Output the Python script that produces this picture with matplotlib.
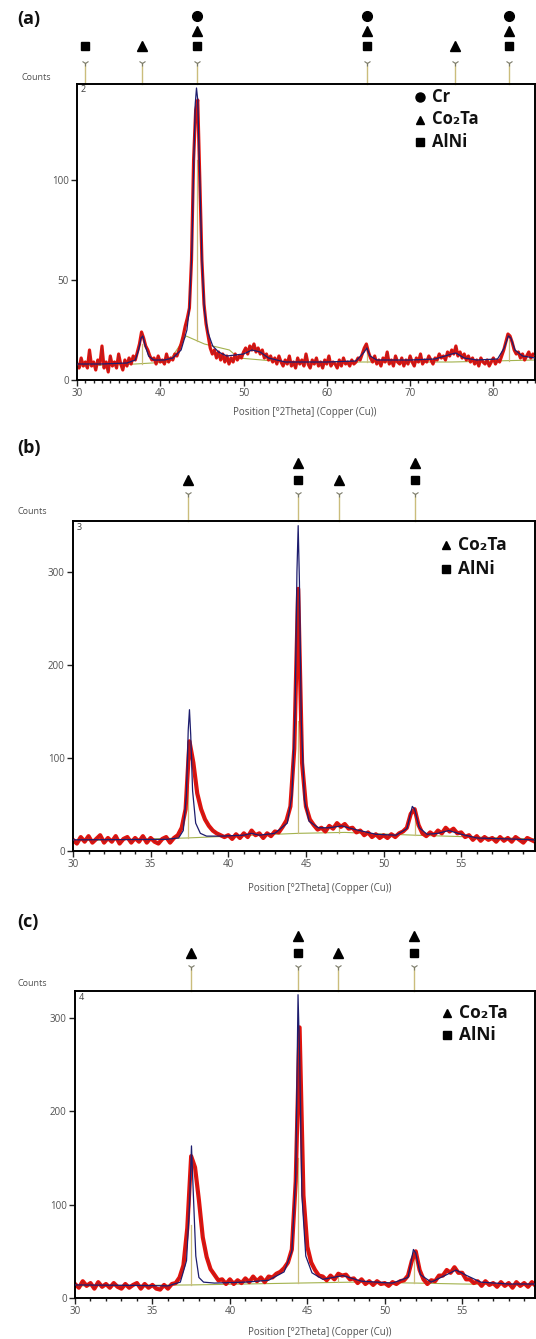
"""Three XRD patterns (a)-(c) with phase reference sticks above each frame."""

import matplotlib

matplotlib.use("Agg")
import matplotlib.pyplot as plt
import matplotlib.transforms as mtransforms
import numpy as np
from matplotlib.ticker import MultipleLocator

FIG_W_PX = 536
FIG_H_PX = 1339
DPI = 100

RED = "#e3120c"
FIT = "#1d1d6e"
BG_LINE = "#a3b24e"
STICK = "#cbbd7c"
TICK_TEXT = "#505050"
FONT = ["Open Sans", "DejaVu Sans"]

# ---- panel (a): 30..85 deg, 0.25 deg step ----
A_START, A_STEP = 30.0, 0.25
A_COUNTS = [
    8, 6, 11, 7, 9, 6, 15, 7, 9, 5, 10, 8, 17, 6, 9, 4, 12, 7, 9, 6,
    13, 8, 5, 10, 7, 11, 8, 12, 10, 14, 18, 24, 21, 17, 15, 12, 10, 11, 8, 12,
    9, 10, 8, 13, 9, 11, 10, 13, 12, 15, 18, 22, 27, 31, 36, 60, 110, 135, 140, 100,
    60, 38, 28, 22, 16, 13, 15, 11, 14, 10, 13, 9, 12, 8, 11, 9, 13, 10, 12, 11,
    14, 16, 13, 17, 15, 18, 14, 16, 13, 15, 11, 13, 10, 12, 9, 11, 8, 12, 9, 7,
    10, 8, 12, 7, 9, 6, 11, 8, 10, 7, 13, 8, 6, 10, 8, 11, 7, 9, 6, 10,
    8, 12, 7, 9, 8, 6, 10, 7, 11, 8, 9, 7, 10, 8, 9, 11, 10, 13, 16, 18,
    14, 11, 9, 12, 8, 10, 7, 11, 9, 14, 8, 10, 7, 12, 9, 8, 11, 7, 10, 8,
    12, 9, 7, 11, 9, 13, 8, 10, 9, 12, 10, 8, 11, 10, 13, 11, 12, 10, 14, 12,
    15, 13, 17, 12, 14, 11, 13, 10, 12, 9, 11, 8, 10, 7, 11, 9, 8, 10, 7, 9,
    11, 8, 10, 9, 12, 15, 19, 23, 22, 19, 15, 13, 14, 11, 13, 10, 12, 14, 11, 13,
    12,
]
A_FIT_X = [30, 33, 36, 37, 37.4, 37.7, 37.9, 38.2, 38.6, 39.2, 40.5, 41.5, 42.5, 43.2,
           43.5, 43.8, 44.0, 44.2, 44.35, 44.5, 44.7, 45.0, 45.3, 45.7, 46.3, 47, 48, 50,
           51, 52, 53, 55, 60, 63.5, 64.5, 64.8, 65.2, 66, 70, 73, 75, 75.5, 76.5, 78,
           80.5, 81.3, 81.8, 82.1, 82.6, 83.5, 85]
A_FIT_Y = [8, 8, 8.5, 10, 15, 21, 22, 17, 12, 10, 10, 11, 15, 25,
           36, 65, 105, 138, 146, 140, 108, 60, 35, 24, 17, 14, 12, 13,
           15, 14, 11, 9, 9, 9.5, 14, 16, 12, 10, 10, 10.5, 13, 13.5, 11, 10,
           10.5, 16, 22, 21, 15, 12, 11]
A_BG_X = [30, 37, 41, 43.1, 45.3, 48.3, 49.4, 55, 65, 75, 85]
A_BG_Y = [7, 8, 9, 22, 18, 15, 11, 9, 9, 9, 10]
A_REF_POS = [31.0, 37.8, 44.4, 64.8, 75.4, 81.9]
A_REF_PHASES = [["s"], ["^"], ["s", "^", "o"], ["s", "^", "o"], ["^"], ["s", "^", "o"]]
A_REF_TOP = [0, 18, 110, 15, 0, 20]
A_LEGEND = [("o", "Cr"), ("^", "Co₂Ta"), ("s", "AlNi")]

# ---- panel (b): 30..59.75 deg, 0.25 deg step ----
B_START, B_STEP = 30.0, 0.25
B_COUNTS = [
    12, 8, 15, 10, 16, 9, 13, 17, 9, 14, 10, 16, 8, 13, 15, 9, 14, 10, 16, 9,
    14, 10, 8, 13, 15, 9, 14, 17, 25, 45, 118, 95, 62, 45, 34, 27, 22, 19, 17, 15,
    17, 13, 18, 14, 19, 15, 22, 17, 19, 14, 19, 16, 21, 20, 26, 33, 48, 110, 282, 95,
    48, 34, 28, 23, 25, 21, 27, 24, 30, 26, 29, 24, 25, 20, 22, 17, 20, 15, 18, 14,
    17, 14, 18, 15, 19, 21, 25, 40, 45, 28, 19, 16, 20, 17, 22, 19, 25, 21, 24, 19,
    20, 15, 17, 12, 16, 11, 15, 12, 14, 10, 15, 11, 14, 10, 15, 12, 9, 14, 12, 10,
]
B_FIT_X = [30, 36, 36.8, 37.1, 37.3, 37.42, 37.5, 37.58, 37.7, 37.9, 38.2, 38.6, 39.5,
           41, 41.5, 42, 43, 43.8, 44.1, 44.3, 44.42, 44.5, 44.58, 44.7, 44.9, 45.2,
           45.8, 46.5, 47.3, 48.2, 49.5, 50.8, 51.5, 51.85, 52.0, 52.3, 52.8, 53.5,
           54.2, 55, 56, 58, 59.7]
B_FIT_Y = [12, 12.5, 14, 22, 60, 130, 152, 125, 65, 30, 19, 16, 16,
           17, 19, 17, 19, 30, 60, 150, 300, 350, 290, 140, 55, 32,
           25, 25, 27, 23, 18, 17, 24, 48, 45, 25, 18, 19,
           22, 18, 14, 13, 12]
B_BG_X = [30, 37.3, 44.5, 47.5, 52, 56, 59.7]
B_BG_Y = [11, 14, 19, 20, 17, 15, 13]
B_REF_POS = [37.4, 44.5, 47.1, 52.0]
B_REF_PHASES = [["^"], ["s", "^"], ["^"], ["s", "^"]]
B_REF_TOP = [70, 140, 25, 40]
B_LEGEND = [("^", "Co₂Ta"), ("s", "AlNi")]

# ---- panel (c): 30..59.75 deg, 0.25 deg step ----
C_START, C_STEP = 30.0, 0.25
C_COUNTS = [
    15, 11, 18, 13, 16, 10, 17, 12, 15, 11, 16, 12, 10, 15, 11, 14, 16, 10, 15, 11,
    14, 10, 9, 14, 10, 15, 16, 22, 35, 75, 152, 140, 105, 65, 44, 31, 25, 19, 20, 15,
    20, 15, 19, 16, 21, 17, 23, 18, 22, 17, 23, 22, 26, 28, 32, 38, 52, 125, 290, 110,
    55, 38, 30, 24, 23, 19, 24, 20, 26, 24, 25, 20, 21, 16, 20, 15, 18, 14, 18, 15,
    16, 13, 17, 15, 18, 19, 24, 40, 50, 30, 20, 15, 19, 18, 24, 24, 30, 27, 33, 27,
    27, 20, 20, 16, 18, 13, 18, 14, 16, 12, 17, 13, 16, 11, 17, 13, 16, 12, 17, 13,
]
C_FIT_X = [30, 34, 36, 36.8, 37.2, 37.4, 37.52, 37.62, 37.8, 38.0, 38.3, 39, 41, 42.5,
           43.5, 44.0, 44.25, 44.4, 44.5, 44.65, 44.9, 45.3, 46.0, 47.3, 48.5, 50.5,
           51.5, 51.85, 52.0, 52.3, 53, 54.0, 54.6, 55.3, 56.2, 58, 59.7]
C_FIT_Y = [14, 13.5, 13, 17, 40, 100, 163, 120, 45, 22, 17, 16, 17, 19,
           28, 50, 130, 325, 260, 110, 45, 27, 20, 24, 18, 16,
           22, 52, 48, 25, 17, 25, 30, 24, 17, 15, 15]
C_BG_X = [30, 37.5, 44.4, 48, 52, 55, 59.7]
C_BG_Y = [13, 14, 16, 17, 16, 15, 14]
C_REF_POS = [37.5, 44.4, 47.0, 51.9]
C_REF_PHASES = [["^"], ["s", "^"], ["^"], ["s", "^"]]
C_REF_TOP = [78, 150, 25, 45]
C_LEGEND = [("^", "Co₂Ta"), ("s", "AlNi")]

X_LABEL = "Position [°2Theta] (Copper (Cu))"
MARKER_SIZE = {"s": 6.0, "^": 6.5, "o": 7.0}


def fig_y(py: float) -> float:
    return 1.0 - py / FIG_H_PX


def fig_x(px: float) -> float:
    return px / FIG_W_PX


def draw_panel(fig, spec: dict) -> None:
    left, top, right, bottom = spec["box"]
    ax = fig.add_axes([fig_x(left), fig_y(bottom), (right - left) / FIG_W_PX, (bottom - top) / FIG_H_PX])

    counts = np.asarray(spec["counts"], dtype=float)
    x = spec["start"] + spec["step"] * np.arange(len(counts))

    ax.plot(spec["bg_x"], spec["bg_y"], color=BG_LINE, lw=0.8, zorder=1)
    bg_at_ref = np.interp(spec["ref_pos"], spec["bg_x"], spec["bg_y"])
    for pos, base, top_val in zip(spec["ref_pos"], bg_at_ref, spec["ref_top"]):
        if top_val > base:
            ax.plot([pos, pos], [base, top_val], color=STICK, lw=0.9, zorder=1)
    ax.plot(x, counts, color=RED, lw=spec["red_lw"], zorder=2, solid_joinstyle="round")
    ax.plot(x, counts, color="#7a2a3a", lw=0.5, alpha=0.6, zorder=3)
    ax.plot(spec["fit_x"], spec["fit_y"], color=FIT, lw=0.9, zorder=4)

    ax.set_xlim(*spec["xlim"])
    ax.set_ylim(*spec["ylim"])
    ax.xaxis.set_major_locator(MultipleLocator(spec["xmajor"]))
    ax.xaxis.set_minor_locator(MultipleLocator(1))
    ax.yaxis.set_major_locator(MultipleLocator(spec["ymajor"]))
    ax.tick_params(which="both", direction="out", color="#222222", width=1.0)
    ax.tick_params(which="major", length=4, labelsize=7, labelcolor=TICK_TEXT, pad=2)
    ax.tick_params(which="minor", length=2.5)
    for label in ax.get_xticklabels() + ax.get_yticklabels():
        label.set_family(FONT)
    for spine in ax.spines.values():
        spine.set_linewidth(1.4)
        spine.set_color("black")
    ax.text(0.008, 0.995, spec["number"], transform=ax.transAxes, ha="left", va="top",
            fontsize=6.5, color="#404040", family=FONT)

    # reference sticks and phase symbols above the frame
    trans = mtransforms.blended_transform_factory(ax.transData, fig.transFigure)
    for pos, phases in zip(spec["ref_pos"], spec["ref_phases"]):
        ax.plot([pos, pos], [fig_y(top), fig_y(spec["arrow_y"])], color=STICK, lw=1.0,
                transform=trans, clip_on=False)
        ax.plot([pos], [fig_y(spec["arrow_y"])], marker="1", ms=5, mew=0.8, color="#7a7a6a",
                transform=trans, clip_on=False)
        for k, phase in enumerate(phases):
            py = spec["sym_y"] - k * spec["sym_gap"]
            ax.plot([pos], [fig_y(py)], marker=phase, ms=MARKER_SIZE[phase], color="black",
                    mec="black", transform=trans, clip_on=False)

    # in-frame legend
    lx, ly, gap = spec["legend_xy"]
    for k, (marker, name) in enumerate(spec["legend"]):
        py = ly + k * gap
        ax.plot([fig_x(lx)], [fig_y(py)], marker=marker, ms=MARKER_SIZE[marker] - 0.5, color="black",
                transform=fig.transFigure, clip_on=False)
        fig.text(fig_x(lx + 12), fig_y(py), name, ha="left", va="center", fontsize=spec["legend_size"],
                 fontweight="bold", family=FONT, color="#111111")

    fig.text(fig_x(17), fig_y(spec["label_y"]), spec["label"], ha="left", va="center",
             fontsize=13, fontweight="bold", family=FONT, color="#111111")
    fig.text(fig_x(spec["counts_xy"][0]), fig_y(spec["counts_xy"][1]), "Counts", ha="center",
             va="center", fontsize=6.5, color=TICK_TEXT, family=FONT)
    fig.text(fig_x(spec["xlabel_xy"][0]), fig_y(spec["xlabel_xy"][1]), X_LABEL, ha="center",
             va="center", fontsize=7, color=TICK_TEXT, family=FONT)


def main() -> None:
    fig = plt.figure(figsize=(FIG_W_PX / DPI, FIG_H_PX / DPI), dpi=DPI)
    panels = [
        dict(box=(77, 84, 535, 380), counts=A_COUNTS, start=A_START, step=A_STEP,
             fit_x=A_FIT_X, fit_y=A_FIT_Y, bg_x=A_BG_X, bg_y=A_BG_Y,
             ref_pos=A_REF_POS, ref_phases=A_REF_PHASES, ref_top=A_REF_TOP, red_lw=2.3,
             xlim=(30, 85), ylim=(0, 148), xmajor=10, ymajor=50, number="2",
             arrow_y=63, sym_y=46, sym_gap=15, legend=A_LEGEND, legend_xy=(420, 97, 22.5),
             legend_size=12, label="(a)", label_y=19, counts_xy=(36, 78), xlabel_xy=(305, 412)),
        dict(box=(73, 521, 535, 851), counts=B_COUNTS, start=B_START, step=B_STEP,
             fit_x=B_FIT_X, fit_y=B_FIT_Y, bg_x=B_BG_X, bg_y=B_BG_Y,
             ref_pos=B_REF_POS, ref_phases=B_REF_PHASES, ref_top=B_REF_TOP, red_lw=3.0,
             xlim=(30, 59.75), ylim=(0, 355), xmajor=5, ymajor=100, number="3",
             arrow_y=494, sym_y=480, sym_gap=17, legend=B_LEGEND, legend_xy=(446, 545, 24),
             legend_size=12.5, label="(b)", label_y=448, counts_xy=(32, 512), xlabel_xy=(320, 888)),
        dict(box=(75, 991, 535, 1298), counts=C_COUNTS, start=C_START, step=C_STEP,
             fit_x=C_FIT_X, fit_y=C_FIT_Y, bg_x=C_BG_X, bg_y=C_BG_Y,
             ref_pos=C_REF_POS, ref_phases=C_REF_PHASES, ref_top=C_REF_TOP, red_lw=3.0,
             xlim=(30, 59.7), ylim=(0, 329), xmajor=5, ymajor=100, number="4",
             arrow_y=967, sym_y=953, sym_gap=17, legend=C_LEGEND, legend_xy=(447, 1013, 22),
             legend_size=12.5, label="(c)", label_y=922, counts_xy=(32, 984), xlabel_xy=(320, 1333)),
    ]
    for spec in panels:
        draw_panel(fig, spec)
    fig.savefig("out.png", dpi=DPI, facecolor="white")
    plt.close(fig)


if __name__ == "__main__":
    main()
